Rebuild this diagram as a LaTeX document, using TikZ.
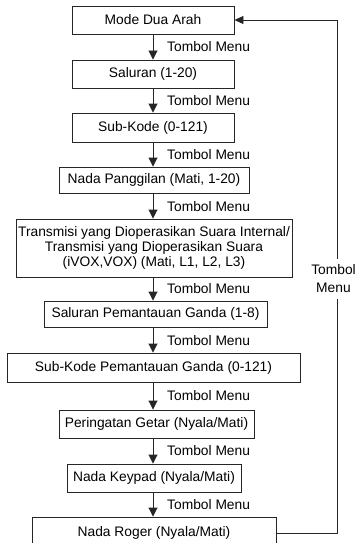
\documentclass[tikz,border=0pt]{standalone}
\usepackage{fontspec}
\setmainfont{Liberation Sans}
\usetikzlibrary{arrows.meta,calc}
\begin{document}
\begin{tikzpicture}[x=1pt,y=-1pt,
  box/.style={draw=black!85, line width=0.9pt, inner sep=0pt, align=center,
    font=\fontsize{13.8}{14.6}\selectfont},
  lab/.style={anchor=west, inner sep=0pt, font=\fontsize{13.8}{15}\selectfont},
  flab/.style={inner sep=0pt, align=center, font=\fontsize{13.8}{18}\selectfont},
  conn/.style={line width=0.9pt, draw=black!85},
  arr/.style={conn, -{Triangle[width=9pt,length=9pt]}},
  arrl/.style={conn, -{Triangle[width=8pt,length=9pt]}}]
\useasboundingbox (0,0) rectangle (359,543);
% boxes
\node[box, minimum width=162pt, minimum height=28pt] (b1) at (153,20) {Mode Dua Arah};
\node[box, minimum width=162pt, minimum height=28pt] (b2) at (153,74) {Saluran (1-20)};
\node[box, minimum width=162pt, minimum height=29pt] (b3) at (153,127.5) {Sub-Kode (0-121)};
\node[box, minimum width=190pt, minimum height=26pt] (b4) at (154,180) {Nada Panggilan (Mati, 1-20)};
\node[box, minimum width=276pt, minimum height=58pt] (b5) at (154,248) {Transmisi yang Dioperasikan Suara Internal/\\Transmisi yang Dioperasikan Suara\\(iVOX,VOX) (Mati, L1, L2, L3)};
\node[box, minimum width=223pt, minimum height=26pt] (b6) at (155.5,314) {Saluran Pemantauan Ganda (1-8)};
\node[box, minimum width=293pt, minimum height=29pt] (b7) at (153.5,367.5) {Sub-Kode Pemantauan Ganda (0-121)};
\node[box, minimum width=195pt, minimum height=28pt] (b8) at (156.5,424) {Peringatan Getar (Nyala/Mati)};
\node[box, minimum width=174pt, minimum height=28pt] (b9) at (154,478) {Nada Keypad (Nyala/Mati)};
\node[box, minimum width=244pt, minimum height=32pt] (b10) at (154,533) {Nada Roger (Nyala/Mati)};
% arrow axis
\coordinate (ax) at (153,0);
\foreach \a/\b in {b1/b2,b2/b3,b3/b4,b4/b5,b5/b6,b6/b7,b7/b8,b8/b9,b9/b10}{
  \draw[arr] (\a.south -| ax) -- (\b.north -| ax);
}
% labels
\node[lab] (t1) at (167,47) {Tombol Menu};
\node[lab] (t2) at (167,100.5) {Tombol Menu};
\node[lab] (t3) at (167,154.5) {Tombol Menu};
\node[lab] (t4) at (167,207) {Tombol Menu};
\node[lab] (t5) at (167,289) {Tombol Menu};
\node[lab] (t6) at (167,341) {Tombol Menu};
\node[lab] (t7) at (167,396) {Tombol Menu};
\node[lab] (t8) at (167,451) {Tombol Menu};
\node[lab] (t9) at (167,504.5) {Tombol Menu};
% feedback
\coordinate (fr) at (337,0);
\node[flab] (fl) at (333.5,279) {Tombol\\Menu};
\coordinate (g1) at (337,259);
\coordinate (g2) at (337,299);
\draw[conn] (b10.east) -- (b10.east -| fr) -- (g2);
\draw[arrl] (g1) -- (b1.east -| fr) -- (b1.east);
\end{tikzpicture}
\end{document}
